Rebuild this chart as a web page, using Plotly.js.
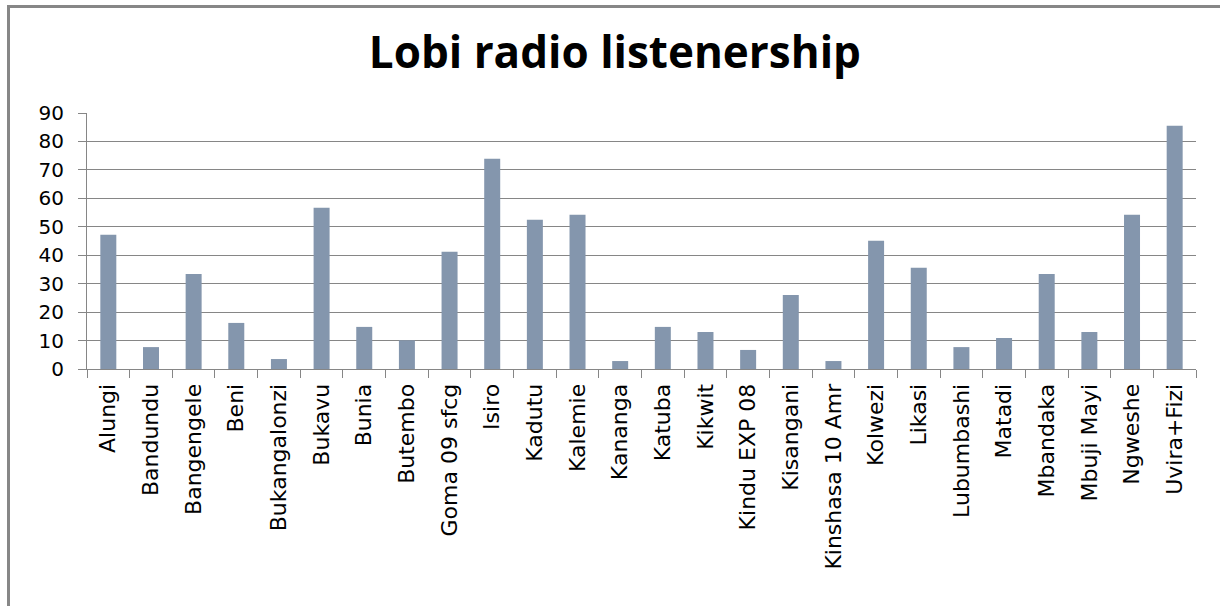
<!DOCTYPE html>
<html>
<head>
<meta charset="utf-8">
<script src="https://cdn.plot.ly/plotly-3.0.1.min.js"></script>
<style>
  html, body { margin: 0; padding: 0; background: #ffffff; }
  #frame { position: absolute; left: 7px; top: 5px; width: 1213px; height: 601px;
           border-top: 3px solid #878787; border-left: 3px solid #878787; box-sizing: border-box; }
  #chart { position: absolute; left: 0; top: 0; width: 1220px; height: 606px; }
</style>
</head>
<body>
<div id="frame"></div>
<div id="chart"></div>
<script>
const categories = ["Alungi","Bandundu","Bangengele","Beni","Bukangalonzi","Bukavu","Bunia","Butembo",
  "Goma 09 sfcg","Isiro","Kadutu","Kalemie","Kananga","Katuba","Kikwit","Kindu EXP 08","Kisangani",
  "Kinshasa 10 Amr","Kolwezi","Likasi","Lubumbashi","Matadi","Mbandaka","Mbuji Mayi","Ngweshe","Uvira+Fizi"];
const listenership = [47.2, 7.7, 33.4, 16.2, 3.5, 56.7, 14.8, 10.1, 41.2, 73.9, 52.5, 54.2, 2.8, 14.8,
  13.0, 6.7, 26.0, 2.8, 45.1, 35.6, 7.7, 10.9, 33.4, 13.0, 54.2, 85.5];
const yTicks = [0, 10, 20, 30, 40, 50, 60, 70, 80, 90];
const chartTitle = "Lobi radio listenership";

const gridCol = '#868686';

const trace = {
  type: 'bar',
  x: categories,
  y: listenership,
  marker: { color: '#8496AD', line: { width: 0 } },
  hoverinfo: 'x+y'
};

const layout = {
  width: 1220,
  height: 606,
  paper_bgcolor: 'rgba(0,0,0,0)',
  plot_bgcolor: 'rgba(0,0,0,0)',
  margin: { l: 87, r: 24, t: 113, b: 237, pad: 0 },
  showlegend: false,
  bargap: 0.625,
  title: {
    text: chartTitle,
    font: { family: 'Open Sans', size: 44, weight: 'bold', color: '#000000' },
    x: 0.504, xanchor: 'center',
    y: 1 - 53 / 606, yanchor: 'middle', yref: 'container'
  },
  xaxis: {
    type: 'category',
    automargin: false,
    tickangle: -90,
    tickson: 'boundaries',
    ticks: 'outside',
    ticklen: 8,
    tickcolor: gridCol,
    tickwidth: 1,
    showline: true,
    linecolor: gridCol,
    linewidth: 1,
    showgrid: false,
    ticklabelstandoff: 5,
    tickfont: { family: 'DejaVu Sans', size: 22, color: '#000000' }
  },
  yaxis: {
    range: [0, 90],
    automargin: false,
    tickmode: 'array',
    tickvals: yTicks,
    ticktext: yTicks.map(String),
    ticks: 'outside',
    ticklen: 8,
    tickcolor: gridCol,
    tickwidth: 1,
    showline: true,
    linecolor: gridCol,
    linewidth: 1,
    showgrid: true,
    gridcolor: gridCol,
    gridwidth: 1,
    zeroline: false,
    ticklabelstandoff: 10,
    tickfont: { family: 'DejaVu Sans', size: 20, color: '#000000' }
  }
};

Plotly.newPlot('chart', [trace], layout, { displayModeBar: false, staticPlot: true });
</script>
</body>
</html>
